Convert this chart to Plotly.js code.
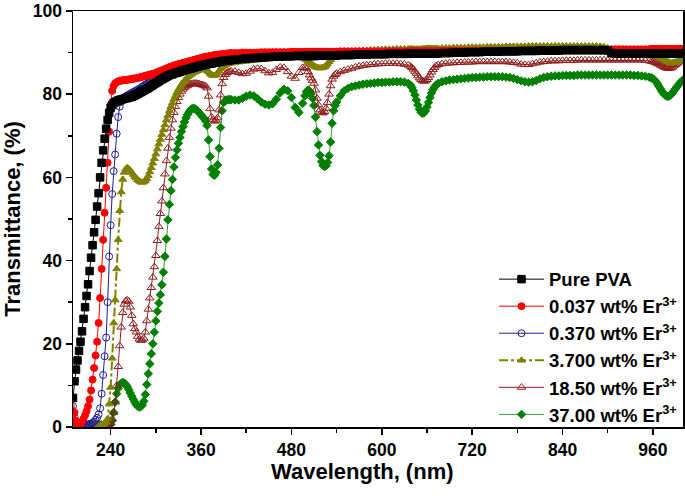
<!DOCTYPE html>
<html>
<head>
<meta charset="utf-8">
<script src="https://cdn.plot.ly/plotly-3.0.1.min.js"></script>
<style>html,body{margin:0;padding:0;background:#fff;}#chart{width:685px;height:496px;}</style>
</head>
<body>
<div id="chart"></div>
<script>
// Wavelength grid (nm)
const wavelength = [
190,192,194,196,198,200,202,204,206,208,210,212,214,216,218,220,222,224,226,228,
230,232,234,236,238,240,242,244,246,248,250,252,254,256,258,260,262,264,266,268,
270,272,274,276,278,280,282,284,286,288,290,292,294,296,298,300,302,304,306,308,
310,312,314,316,318,320,322,324,326,328,330,332,334,336,338,340,342,344,346,348,
350,352,354,356,358,360,362,364,366,368,370,372,374,376,378,380,382,384,386,388,
390,392,394,396,398,400,
405,410,415,420,425,430,435,440,445,450,455,460,465,470,475,480,485,490,495,
498,500,502,504,506,508,510,512,514,516,518,520,522,524,526,528,530,532,534,536,538,540,
545,550,555,560,565,570,575,580,585,590,595,600,605,610,615,620,625,630,635,
638,640,642,644,646,648,650,652,654,656,658,660,662,664,666,668,670,672,
675,680,685,690,695,700,705,710,715,720,725,730,735,740,745,750,755,760,765,770,
775,780,785,790,795,800,805,810,815,820,825,830,835,840,845,850,855,860,865,870,
875,880,885,890,895,900,905,910,915,920,925,930,935,940,945,950,955,
958,960,962,964,966,968,970,972,974,976,978,980,982,984,986,988,990,992,994,996,998,1000,1002
];

// Transmittance (%) per sample
const purePVA = [
7,11,13.8,16,18.3,20.5,23,26,28.8,31.5,
34.3,37.5,40.7,43.7,46.8,49.8,53,56.2,60,63.5,
66.5,69.3,71.7,73.8,75.5,76.7,77.4,77.9,78.1,78.3,
78.5,78.6,78.7,78.8,78.9,79,79.1,79.2,79.3,79.4,
79.6,79.7,79.9,80.1,80.3,80.5,80.7,80.9,81.1,81.3,
81.5,81.8,82,82.2,82.5,82.7,82.9,83.1,83.4,83.6,
83.8,84,84.2,84.4,84.6,84.7,84.8,85,85.1,85.2,
85.3,85.4,85.6,85.7,85.8,85.9,86,86.1,86.2,86.3,
86.4,86.5,86.6,86.7,86.8,86.9,87,87,87.1,87.2,
87.3,87.4,87.4,87.5,87.6,87.6,87.7,87.8,87.9,87.9,
88,88,88.1,88.1,88.2,88.2,
88.3,88.4,88.5,88.6,88.6,88.7,88.8,88.8,88.9,88.9,89,89,89,89.1,89.1,89.1,89.2,89.2,89.2,
89.2,89.2,89.2,89.2,89.2,89.2,89.2,89.2,89.3,89.3,89.3,89.3,89.3,89.3,89.3,89.3,89.3,89.3,89.3,89.3,89.3,89.3,
89.4,89.4,89.4,89.4,89.5,89.5,89.5,89.5,89.6,89.6,89.6,89.6,89.6,89.7,89.7,89.7,89.7,89.7,89.7,
89.8,89.8,89.8,89.8,89.8,89.8,89.8,89.8,89.8,89.8,89.8,89.8,89.8,89.8,89.8,89.8,89.8,89.8,
89.8,89.9,89.9,89.9,90,90,
90,90,90.1,90.1,90.1,90.1,90.2,90.2,90.2,90.2,90.2,90.3,90.3,90.3,90.3,90.3,90.4,90.4,90.4,90.4,
90.4,90.5,90.5,90.5,90.5,90.5,90.5,90.6,90.6,90.6,90.6,90.6,90.6,90.6,90.6,90.6,90.6,90.6,90.6,
90.5,
89.9,89.8,89.8,89.8,89.8,89.8,89.8,89.8,89.8,89.8,89.8,
89.8,89.8,89.8,89.8,89.8,89.8,89.8,89.8,89.8,89.8,89.8,89.8,89.8,89.8,89.8,89.8,89.8,89.8,89.8,89.8,89.8,89.8,89.8
];

const er0037 = [
7,3.5,1.5,0.8,0.6,0.8,1.3,2,2.8,3.8,
5,6.6,8.8,11.4,14.2,17.2,20.5,25,31,38,
45,51.5,57.5,63.5,71,77.5,80.8,82,82.6,82.9,
83.1,83.2,83.3,83.3,83.4,83.4,83.5,83.5,83.6,83.6,
83.7,83.8,83.8,83.9,84,84.1,84.2,84.3,84.4,84.5,
84.6,84.7,84.8,84.9,85,85.1,85.3,85.4,85.6,85.7,
85.9,86,86.2,86.3,86.5,86.6,86.7,86.9,87,87.1,
87.2,87.3,87.4,87.5,87.6,87.7,87.8,87.9,88,88.1,
88.2,88.3,88.4,88.5,88.6,88.7,88.8,88.9,89,89,
89.1,89.2,89.2,89.3,89.4,89.4,89.5,89.5,89.6,89.6,
89.7,89.7,89.8,89.8,89.8,89.9,
89.9,89.9,90,90,90,90,90,90.1,90.1,90.1,90.1,90.1,90.1,90.1,90.1,90.2,90.2,90.2,90.2,
90.2,90.2,90.2,90.2,90.2,90.2,90.2,90.2,90.2,90.2,90.2,90.2,90.2,90.2,90.2,90.2,90.2,90.2,90.2,90.2,90.2,90.2,
90.3,90.3,90.3,90.3,90.3,90.3,90.3,90.3,90.3,90.3,90.3,90.3,90.3,90.3,90.3,90.3,90.3,90.3,90.3,
90.3,90.3,90.3,90.3,90.3,90.3,90.3,90.3,90.3,90.3,90.3,90.3,90.3,90.3,90.3,90.3,90.3,90.3,
90.4,90.4,90.4,90.4,90.4,90.4,
90.4,90.4,90.4,90.4,90.4,90.4,90.4,90.4,90.4,90.4,90.5,90.5,90.5,90.5,90.5,90.5,90.5,90.5,90.5,90.5,
90.6,90.6,90.6,90.6,90.6,90.6,90.6,90.6,90.6,90.6,90.6,90.6,90.6,90.6,90.6,90.6,90.6,90.6,90.6,
90.7,
90.8,90.8,90.8,90.8,90.8,90.8,90.8,90.8,90.8,90.8,90.8,
90.9,90.9,90.9,90.9,90.9,90.9,90.9,90.9,90.9,90.9,90.9,90.9,90.9,90.9,90.9,90.9,90.9,90.9,90.9,90.9,90.9,90.9,90.9
];

const er0370 = [
5,2.5,1.2,0.6,0.5,0.5,0.5,0.5,0.5,0.6,
0.6,0.7,0.8,1,1.3,1.7,2.2,3,4.5,8,
12.5,17,21.5,30,41,48.5,56,61.5,65.5,70.5,
74.5,77,78.2,78.8,79.2,79.5,79.7,79.9,80.1,80.3,
80.5,80.7,80.9,81.1,81.3,81.5,81.8,82,82.3,82.5,
82.8,83,83.3,83.5,83.8,84,84.2,84.4,84.6,84.8,
85,85.2,85.4,85.5,85.7,85.8,86,86.1,86.3,86.4,
86.5,86.6,86.7,86.8,86.9,87,87.1,87.2,87.3,87.4,
87.5,87.6,87.7,87.8,87.9,88,88.1,88.2,88.3,88.4,
88.5,88.5,88.6,88.7,88.7,88.8,88.9,88.9,89,89.1,
89.1,89.2,89.2,89.3,89.3,89.4,
89.5,89.5,89.6,89.7,89.7,89.8,89.8,89.9,89.9,89.9,90,90,90,90,90,90.1,90.1,90.1,90.1,
90.1,90.1,90.1,90.1,90.1,90.1,90.1,90.1,90.1,90.1,90.1,90.1,90.1,90.1,90.1,90.1,90.1,90.1,90.1,90.1,90.1,90.1,
90.2,90.2,90.2,90.2,90.2,90.2,90.2,90.2,90.2,90.2,90.2,90.2,90.2,90.2,90.2,90.2,90.2,90.2,90.2,
90.2,90.2,90.2,90.2,90.2,90.2,90.2,90.2,90.2,90.2,90.2,90.2,90.2,90.2,90.2,90.2,90.2,90.2,
90.3,90.3,90.3,90.3,90.3,90.3,
90.3,90.3,90.3,90.3,90.3,90.3,90.3,90.3,90.3,90.3,90.4,90.4,90.4,90.4,90.4,90.4,90.4,90.4,90.4,90.4,
90.5,90.5,90.5,90.5,90.5,90.5,90.5,90.5,90.5,90.5,90.5,90.5,90.5,90.5,90.5,90.5,90.5,90.5,90.5,
90.5,
90.6,90.6,90.6,90.6,90.6,90.6,90.6,90.6,90.6,90.6,90.6,
90.6,90.6,90.6,90.6,90.6,90.6,90.6,90.6,90.6,90.6,90.6,90.6,90.6,90.6,90.6,90.6,90.6,90.6,90.6,90.6,90.6,90.6,90.6
];

const er3700 = [
2,1,0.5,0.5,0.5,0.5,0.5,0.5,0.5,0.5,
0.5,0.5,0.5,0.5,0.5,0.5,0.5,0.5,0.5,0.5,
0.6,0.8,1.2,2,5.5,9.5,16.5,25,30.5,38,
45,52,56.5,59.5,61.2,62,62.3,62.1,61.7,61.2,
60.7,60.2,59.8,59.4,59.1,58.9,58.8,58.9,59.2,59.7,
60.4,61.3,62.3,63.4,64.5,65.6,66.8,68,69.1,70.3,
71.4,72.6,73.8,74.9,76,77,77.9,78.8,79.6,80.4,
81.1,81.7,82.3,82.8,83.3,83.7,84.1,84.4,84.7,85,
85.2,85.4,85.5,85.7,85.8,85.9,86,86,85.9,85.7,
85.4,85,84.7,84.5,84.5,84.7,85.1,85.6,86.1,86.5,
86.8,87,87.2,87.3,87.4,87.5,
87.6,87.7,87.8,87.9,88,88.1,88.2,88.3,88.4,88.5,88.6,88.7,88.8,88.9,89,89,89,88.9,88.7,
88.5,88.3,88,87.7,87.4,87.1,86.8,86.6,86.4,86.3,86.3,86.3,86.4,86.6,86.9,87.3,87.8,88.3,88.8,89.2,89.5,89.7,
89.9,90,90.1,90.2,90.3,90.4,90.5,90.5,90.6,90.6,90.7,90.7,90.8,90.8,90.8,90.9,90.9,90.9,90.9,
90.9,90.9,90.8,90.8,90.8,90.8,90.8,90.8,90.9,90.9,90.9,91,91,91,91,91,91,91,
91,91.1,91.1,91.1,91.2,91.2,
91.2,91.2,91.3,91.3,91.3,91.3,91.3,91.4,91.4,91.4,91.4,91.4,91.5,91.5,91.5,91.5,91.5,91.5,91.6,91.6,
91.6,91.6,91.6,91.6,91.6,91.6,91.6,91.6,91.6,91.6,91.6,91.6,91.6,91.6,91.6,91.6,91.6,91.5,91.4,
91.1,
90,89.9,89.9,89.9,89.9,89.9,89.9,89.9,89.9,89.8,89.8,
89.7,89.6,89.5,89.4,89.2,89,88.8,88.6,88.4,88.2,88,87.8,87.6,87.5,87.5,87.6,87.7,87.8,87.9,88,88.1,88.2,88.3
];

const er1850 = [
2.5,1,0.5,0.5,0.5,0.5,0.5,0.5,0.5,0.5,
0.5,0.5,0.5,0.5,0.5,0.5,0.5,0.5,0.5,0.5,
0.5,0.5,0.5,0.6,0.8,1,2,3.5,6,10,
14.5,19.5,24,27.5,29.5,30.3,30.5,30.2,28.8,26.8,
24.8,23.6,22.8,21.8,21.1,20.8,20.9,21.3,22.8,25.5,
28.3,31,33.5,36,38.5,41.2,44.8,48.2,51.3,54.3,
57.5,60.8,64,67,69.6,71.8,73.8,75.6,77,78.2,
79.2,80,80.7,81.2,81.6,81.9,82.1,82.3,82.4,82.5,
82.6,82.6,82.6,82.5,82.4,82.3,82.2,82.1,81.9,81.5,
79.5,76.5,74.5,73.8,73.5,73.7,74.3,76.2,79.8,82.5,
84,84.7,85.1,85.3,85.4,85.5,
85.5,85.2,84.9,85,85.5,86,86.2,86.1,85.6,85.1,85.2,85.9,86.5,86.4,85.4,84.3,83.8,85.2,86.4,
86.5,86.2,85.4,84.6,83.9,83.3,82.6,81,79,77.4,76.2,75.6,75.5,75.8,76.6,78,80,82,83.6,84.3,84.7,85,
85.4,85.7,86,86.2,86.5,86.7,86.9,87,87.1,87.2,87.3,87.3,87.4,87.4,87.4,87.4,87.3,87.2,87,
86.7,86.4,86,85.5,85,84.4,83.9,83.5,83.2,83.1,83.2,83.5,84,84.6,85.3,85.9,86.4,86.8,
87.1,87.3,87.4,87.5,87.5,87.6,
87.6,87.7,87.7,87.7,87.8,87.8,87.8,87.8,87.8,87.8,87.8,87.8,87.8,87.7,87.6,87.5,87.2,87.1,87.1,87.3,
87.5,87.7,87.8,87.9,88,88,88,88.1,88.1,88.1,88.1,88.2,88.2,88.2,88.2,88.2,88.2,88.2,88.2,
88.2,
88.2,88.2,88.2,88.2,88.2,88.2,88.2,88.2,88.2,88.1,88,
87.9,87.8,87.7,87.6,87.4,87.2,87,86.8,86.6,86.4,86.3,86.2,86.2,86.3,86.5,86.8,87.1,87.4,87.7,88,88.2,88.4,88.5
];

const er37 = [
2,1,0.5,0.5,0.5,0.5,0.5,0.5,0.5,0.5,
0.5,0.5,0.5,0.5,0.5,0.5,0.5,0.5,0.5,0.5,
0.5,0.5,0.5,0.5,0.5,0.6,1.5,3.5,6,8,
9.3,10.1,10.5,10.7,10.6,10.2,9.7,9,8.2,7.4,
6.7,6,5.4,5,4.8,4.9,5.3,6.2,7.8,10.2,
12.8,15.2,17.6,20,22.8,25.5,27.8,29.8,31.8,34.2,
37.2,41,45.2,49.8,53.5,56.8,59.5,62.5,64.8,66.6,
68.2,69.6,71,72.2,73.3,74.3,75.1,75.7,76.2,76.5,
76.6,76.5,76.2,75.8,75.4,75,74.6,74.2,73.6,72.5,
69,65,62,60.7,60.5,61.2,63,67,72,76,
78,78.4,78.6,78.7,78.7,78.7,
78.6,78.6,79,79.5,79.8,79.6,78.9,78.1,77.6,77.4,77.7,78.8,80.3,81.2,80.8,79.2,76.8,75.6,77.8,
79.6,80.6,81,80.8,80.1,79,77.3,74.5,71,67.8,65.3,63.8,62.9,62.6,62.8,63.6,65.2,68.5,73,76,77.3,78.1,
79.6,80.8,81.4,81.8,82,82.2,82.4,82.5,82.6,82.7,82.8,82.8,82.9,82.9,83,83,83,82.9,82.6,
82.2,81.6,80.8,79.8,78.6,77.4,76.4,75.7,75.4,75.5,76,76.9,78,79.2,80.3,81.1,81.7,82.2,
82.6,83,83.2,83.4,83.5,83.6,
83.7,83.8,83.9,84,84,84.1,84.1,84.2,84.2,84.2,84.2,84.2,84.1,84,83.8,83.5,83.2,83,82.9,83,
83.3,83.7,84,84.2,84.3,84.4,84.4,84.5,84.5,84.5,84.5,84.6,84.6,84.6,84.6,84.6,84.6,84.6,84.6,
84.6,
84.6,84.6,84.6,84.6,84.6,84.6,84.5,84.5,84.4,84.3,84.1,
83.9,83.7,83.4,83,82.5,81.9,81.3,80.7,80.2,79.8,79.6,79.5,79.6,79.9,80.3,80.8,81.3,81.8,82.3,82.7,83.1,83.4,83.7
];

const seriesNames = [
  'Pure PVA',
  '0.037 wt% Er<sup>3+</sup>',
  '0.370 wt% Er<sup>3+</sup>',
  '3.700 wt% Er<sup>3+</sup>',
  '18.50 wt% Er<sup>3+</sup>',
  '37.00 wt% Er<sup>3+</sup>'
];

const F = 'Liberation Sans, Arial, sans-serif';

function tr(name, y, color, symbol, size, dash, lw, rank, lineColor) {
  return {
    type: 'scatter', mode: 'lines+markers', x: wavelength, y: y, name: name,
    legendrank: rank, legendgroup: 'g' + rank,
    line: {color: lineColor || color, width: lw, dash: dash},
    marker: {symbol: symbol, size: size, color: color, line: {color: color, width: 1}},
    cliponaxis: true
  };
}

// drawn bottom-to-top: 37.00 ... Pure PVA on top
const data = [
  tr(seriesNames[5], er37, '#008000', 'diamond', 6.5, 'solid', 1, 6, '#33a033'),
  tr(seriesNames[4], er1850, '#8f1d1d', 'triangle-up-open', 7.5, 'solid', 1, 5),
  tr(seriesNames[3], er3700, '#808000', 'triangle-up', 7, 'dashdot', 2, 4),
  tr(seriesNames[2], er0370, '#1f1f9a', 'circle-open', 7, 'solid', 1, 3),
  tr(seriesNames[1], er0037, '#ff0000', 'circle', 7, 'solid', 1, 2),
  tr(seriesNames[0], purePVA, '#000000', 'square', 7.5, 'solid', 1, 1)
];

const layout = {
  width: 685, height: 496,
  margin: {l: 73, r: 2, t: 11, b: 69},
  paper_bgcolor: '#ffffff', plot_bgcolor: '#ffffff',
  font: {family: F, color: '#000'},
  showlegend: true,
  xaxis: {
    range: [190, 1000], tick0: 240, dtick: 120,
    ticks: 'outside', ticklen: 6, tickwidth: 1.5, tickcolor: '#000',
    minor: {dtick: 60, ticks: 'outside', ticklen: 4, tickwidth: 1.5, tickcolor: '#000'},
    showline: true, linewidth: 1.5, linecolor: '#000', mirror: true,
    showgrid: false, zeroline: false,
    tickfont: {family: F, size: 17.5, color: '#000', weight: 'bold'}
  },
  yaxis: {
    range: [0, 100], tick0: 0, dtick: 20,
    ticks: 'outside', ticklen: 6, tickwidth: 1.5, tickcolor: '#000',
    minor: {dtick: 10, ticks: 'outside', ticklen: 4, tickwidth: 1.5, tickcolor: '#000'},
    showline: true, linewidth: 1.5, linecolor: '#000', mirror: true,
    showgrid: false, zeroline: false,
    tickfont: {family: F, size: 17.5, color: '#000', weight: 'bold'},
    title: {text: 'Transmittance, (%)', font: {family: F, size: 22, color: '#000', weight: 'bold'}}
  },
  annotations: [{
    text: 'Wavelength, (nm)', xref: 'paper', yref: 'paper',
    x: 0.474, y: -0.108, xanchor: 'center', yanchor: 'middle', showarrow: false,
    font: {family: F, size: 22, color: '#000', weight: 'bold'}
  }],
  legend: {
    x: 1.0, y: 0.40, xanchor: 'right', yanchor: 'top',
    bgcolor: 'rgba(0,0,0,0)', borderwidth: 0, itemwidth: 45,
    font: {family: F, size: 18.5, color: '#000', weight: 'bold'},
    tracegroupgap: 0
  }
};

Plotly.newPlot('chart', data, layout, {displayModeBar: false, staticPlot: true});
</script>
</body>
</html>
